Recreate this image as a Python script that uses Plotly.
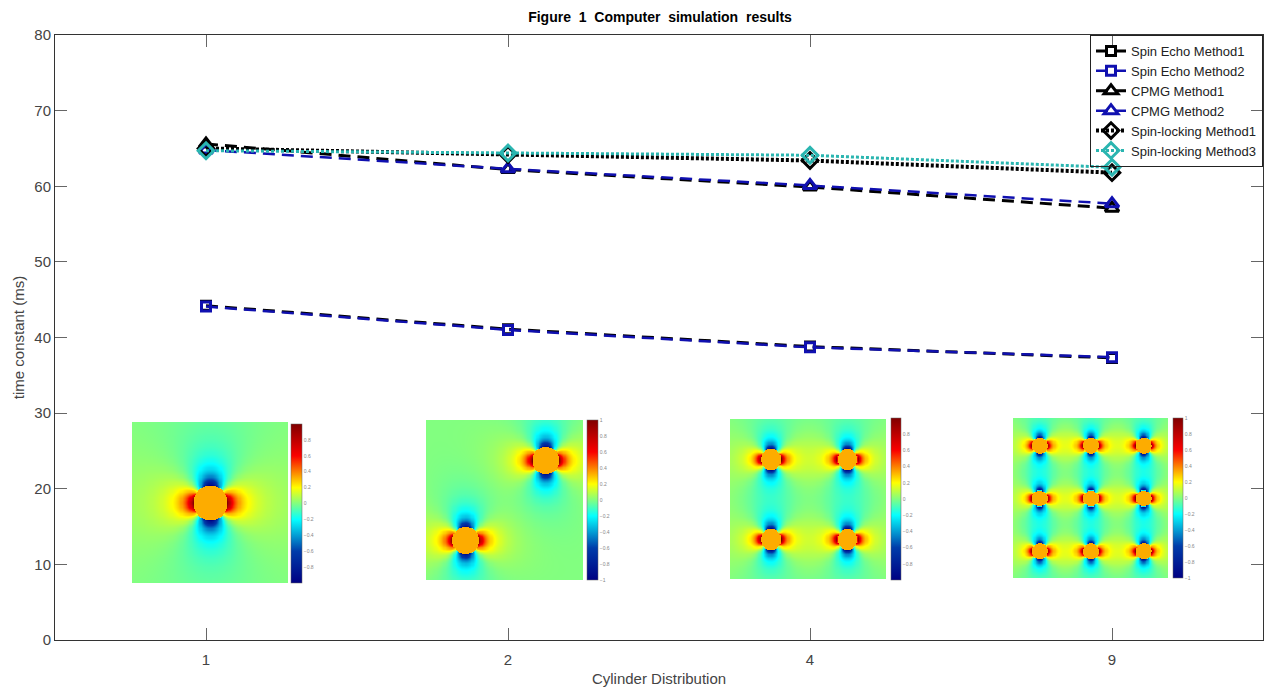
import numpy as np
import plotly.graph_objects as go

# ---------------- data ----------------
categories = ["1", "2", "4", "9"]
spin_echo_m1 = [44.2, 41.1, 38.8, 37.3]
spin_echo_m2 = [44.1, 41.0, 38.7, 37.4]
cpmg_m1 = [65.6, 62.2, 59.9, 57.1]
cpmg_m2 = [64.8, 62.3, 60.1, 57.7]
spinlock_m1 = [65.0, 64.2, 63.4, 61.8]
spinlock_m3 = [64.7, 64.4, 64.1, 62.5]
y_ticks = [0, 10, 20, 30, 40, 50, 60, 70, 80]

# inset field maps: cylinder centres (fraction of inset) and radius
inset_centres = [
    [(0.5, 0.5)],
    [(0.25, 0.25), (0.76, 0.75)],
    [(0.26, 0.25), (0.75, 0.25), (0.26, 0.75), (0.75, 0.75)],
    [(cx, cy) for cy in (0.17, 0.5, 0.83) for cx in (0.17, 0.5, 0.84)],
]
inset_radius = [0.11, 0.085, 0.065, 0.05]
inset_inside = [0.33, 0.33, 0.33, 0.33]
inset_cbar_ticks = [
    [-0.8, -0.6, -0.4, -0.2, 0, 0.2, 0.4, 0.6, 0.8],
    [-1, -0.8, -0.6, -0.4, -0.2, 0, 0.2, 0.4, 0.6, 0.8, 1],
    [-0.8, -0.6, -0.4, -0.2, 0, 0.2, 0.4, 0.6, 0.8],
    [-1, -0.8, -0.6, -0.4, -0.2, 0, 0.2, 0.4, 0.6, 0.8, 1],
]

# ---------------- layout geometry (pixels) ----------------
W, H = 1269, 691
L, R, T, B = 55, 6, 35, 51
PW, PH = W - L - R, H - T - B


def px(x):
    return (x - L) / PW


def py(y):
    return (H - B - y) / PH


inset_boxes = [  # x0, x1, ytop, ybottom
    (132, 288, 422, 583),
    (426, 583, 420, 580),
    (730, 886, 419, 579),
    (1013, 1168, 418, 578),
]
cbar_boxes = [  # xleft, thickness, ytop, ybottom
    (291, 11, 424, 583),
    (587, 11, 420, 580),
    (891, 10, 418, 580),
    (1173, 10, 418, 578),
]

fig = go.Figure()

series = [
    ("Spin Echo Method1", spin_echo_m1, "black", "12px,7px", 3, "square-open", 9),
    ("Spin Echo Method2", spin_echo_m2, "#1010B0", "12px,7px", 2.5, "square-open", 9),
    ("CPMG Method1", cpmg_m1, "black", "12px,7px", 3, "triangle-up-open", 12),
    ("CPMG Method2", cpmg_m2, "#1010B0", "12px,7px", 2.5, "triangle-up-open", 12),
    ("Spin-locking Method1", spinlock_m1, "black", "3px,2px", 4, "diamond-open", 12),
    ("Spin-locking Method3", spinlock_m3, "#2AB5B0", "3px,2px", 3, "diamond-open", 12),
]
for name, vals, col, dash, lw, sym, ms in series:
    fig.add_trace(go.Scatter(
        x=categories, y=vals, name=name, mode="lines+markers",
        line=dict(color=col, dash=dash, width=lw),
        marker=dict(symbol=sym, size=ms, color=col, line=dict(color=col, width=3)),
        xaxis="x", yaxis="y",
    ))

# ---------------- insets ----------------
n = 140
g = (np.arange(n) + 0.5) / n
X, Y = np.meshgrid(g, g)
layout_extra = {}
for i in range(4):
    field = np.zeros_like(X)
    inside = np.zeros_like(X, dtype=bool)
    r0 = inset_radius[i]
    for (cx, cy) in inset_centres[i]:
        dx, dy = X - cx, Y - cy
        r2 = dx * dx + dy * dy
        inside |= r2 < r0 * r0
        cos2 = (dx * dx - dy * dy) / np.maximum(r2, 1e-9)
        field += cos2 * r0 * r0 / np.maximum(r2, r0 * r0)
    field = np.clip(field, -1, 1)
    field[inside] = inset_inside[i]

    x0, x1, yt, yb = inset_boxes[i]
    cx0, th, cyt, cyb = cbar_boxes[i]
    k = i + 2
    fig.add_trace(go.Heatmap(
        z=field, x=g, y=g, colorscale="Jet", zmin=-1, zmax=1, zsmooth="best",
        xaxis=f"x{k}", yaxis=f"y{k}", showscale=True, hoverinfo="skip",
        showlegend=False,
        colorbar=dict(
            x=px(cx0), xanchor="left", y=py((cyt + cyb) / 2), yanchor="middle",
            len=cyb - cyt, lenmode="pixels", thickness=th, thicknessmode="pixels",
            xpad=0, ypad=0, outlinewidth=0.5, outlinecolor="#666",
            tickvals=inset_cbar_ticks[i], ticks="",
            tickfont=dict(size=5, color="#888", family="Liberation Sans"),
        ),
    ))
    layout_extra[f"xaxis{k}"] = dict(domain=[px(x0), px(x1)], anchor=f"y{k}",
                                     range=[0, 1], visible=False, fixedrange=True)
    layout_extra[f"yaxis{k}"] = dict(domain=[py(yb), py(yt)], anchor=f"x{k}",
                                     range=[0, 1], visible=False, fixedrange=True)

axis_font = dict(family="Liberation Sans, Arial, sans-serif", size=15, color="#444")
fig.update_layout(
    width=W, height=H,
    margin=dict(l=L, r=R, t=T, b=B),
    paper_bgcolor="white", plot_bgcolor="white",
    title=dict(text="<b>Figure  1  Computer  simulation  results</b>",
               x=(660) / W, xanchor="center", y=1 - 17 / H, yanchor="middle",
               font=dict(family="Liberation Sans, Arial, sans-serif", size=14, color="black")),
    xaxis=dict(
        type="category", range=[-0.5, 3.5], domain=[0, 1],
        showline=True, linecolor="#333", linewidth=1, mirror="allticks",
        ticks="inside", ticklen=12, tickcolor="#666", tickwidth=1,
        showgrid=False, zeroline=False, tickfont=axis_font, ticklabelstandoff=6,
        title=dict(text="Cylinder Distribution", font=axis_font, standoff=6),
    ),
    yaxis=dict(
        range=[0, 80], tickvals=y_ticks, domain=[0, 1],
        showline=True, linecolor="#333", linewidth=1, mirror="allticks",
        ticks="inside", ticklen=12, tickcolor="#666", tickwidth=1,
        showgrid=False, zeroline=False, tickfont=axis_font,
        title=dict(text="time constant (ms)", font=axis_font, standoff=6),
    ),
    legend=dict(
        x=1, xanchor="right", y=1, yanchor="top",
        bordercolor="#222", borderwidth=1, bgcolor="rgba(255,255,255,0)",
        font=dict(family="Liberation Sans, Arial, sans-serif", size=13, color="#222"),
        tracegroupgap=0, itemwidth=30,
    ),
    showlegend=True,
    **layout_extra,
)

fig.write_html("out.html")
